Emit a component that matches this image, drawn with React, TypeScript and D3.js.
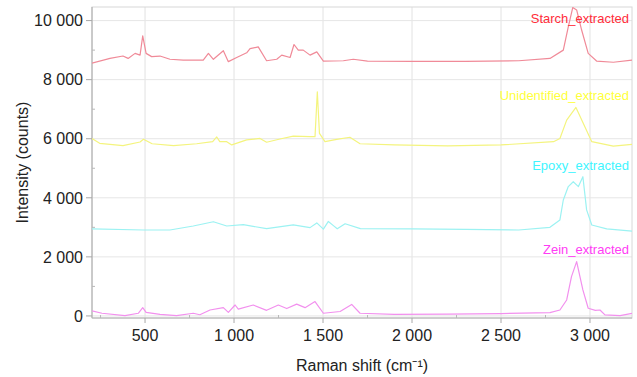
import React from "react";
import * as d3 from "d3";

const starchX = [202, 303, 376, 405, 444, 472, 487, 506, 537, 584, 640, 715, 771, 827, 856, 884, 940, 968, 1015, 1071, 1090, 1136, 1183, 1240, 1268, 1315, 1337, 1361, 1389, 1427, 1465, 1502, 1614, 1670, 1750, 2000, 2300, 2600, 2775, 2850, 2878, 2903, 2925, 2953, 2990, 3037, 3131, 3236];
const starchY = [8560, 8720, 8800, 8720, 8890, 8830, 9480, 8890, 8780, 8800, 8690, 8660, 8660, 8660, 8890, 8690, 8980, 8610, 8750, 8910, 9050, 9110, 8640, 8690, 8830, 8750, 9190, 9000, 9000, 8830, 8940, 8630, 8640, 8690, 8630, 8620, 8620, 8640, 8720, 9000, 9790, 10440, 10360, 9680, 8890, 8630, 8590, 8660];

const unidX = [202, 245, 376, 472, 491, 540, 660, 790, 880, 903, 920, 959, 987, 1071, 1146, 1183, 1258, 1333, 1427, 1455, 1468, 1480, 1511, 1577, 1651, 1708, 1900, 2200, 2500, 2795, 2831, 2869, 2921, 2962, 3010, 3131, 3236];
const unidY = [6010, 5845, 5765, 5890, 5980, 5830, 5765, 5830, 5900, 6060, 5900, 5900, 5790, 5960, 6010, 5880, 5990, 6090, 6070, 6070, 7590, 6180, 5900, 5980, 6050, 5830, 5790, 5760, 5790, 5900, 6010, 6630, 7060, 6520, 5900, 5750, 5810];

const epoxyX = [202, 491, 640, 771, 884, 959, 1052, 1183, 1333, 1427, 1465, 1502, 1530, 1560, 1580, 1624, 1710, 2000, 2300, 2600, 2775, 2831, 2850, 2878, 2906, 2935, 2960, 2981, 3010, 3094, 3236];
const epoxyY = [2945, 2910, 2910, 3045, 3190, 3045, 3090, 2955, 3080, 2990, 3150, 2940, 3200, 3050, 2950, 3120, 2955, 2945, 2930, 2910, 3000, 3250, 3925, 4380, 4545, 4380, 4715, 3590, 3080, 2945, 2870];

const zeinX = [202, 258, 387, 462, 487, 506, 584, 677, 771, 808, 865, 940, 968, 1006, 1024, 1108, 1183, 1249, 1296, 1352, 1399, 1455, 1502, 1596, 1661, 1708, 1900, 2200, 2500, 2775, 2831, 2869, 2896, 2925, 2960, 2990, 3030, 3056, 3084, 3169, 3236];
const zeinY = [170, 90, 10, 90, 280, 120, 50, 10, 90, 40, 200, 280, 120, 370, 230, 370, 190, 370, 250, 400, 280, 485, 90, 150, 390, 90, 55, 60, 80, 110, 200, 540, 1330, 1840, 880, 260, 190, 200, 35, 10, 90];

const seriesNames = ["Starch_extracted", "Unidentified_extracted", "Epoxy_extracted", "Zein_extracted"];
const lineColors = ["#f08a98", "#f4f47e", "#9cf2f2", "#f290ee"];
const labelColors = ["#ff2d3a", "#ffff3c", "#3ff5ff", "#ff3cf5"];
const labelValues = [9920, 7300, 4940, 2100];

const xMajorTicks = [500, 1000, 1500, 2000, 2500, 3000];
const xMinorTicks = [250, 750, 1250, 1750, 2250, 2750, 3250];
const yMajorTicks = [0, 2000, 4000, 6000, 8000, 10000];
const yMinorTicks = [1000, 3000, 5000, 7000, 9000];

const W = 637;
const H = 377;
const L = 92, R = 632, T = 7, B = 318;

export default function App() {
  const x = d3.scaleLinear().domain([202, 3236]).range([L, R]);
  const y = d3.scaleLinear().domain([-70, 10460]).range([B, T]);
  const fmt = d3.formatLocale({ decimal: ".", thousands: " ", grouping: [3], currency: ["", ""] }).format(",d");
  const line = d3.line<[number, number]>().x((d) => x(d[0])).y((d) => y(d[1]));
  const data: [number, number][][] = [
    starchX.map((v, i) => [v, starchY[i]] as [number, number]),
    unidX.map((v, i) => [v, unidY[i]] as [number, number]),
    epoxyX.map((v, i) => [v, epoxyY[i]] as [number, number]),
    zeinX.map((v, i) => [v, zeinY[i]] as [number, number]),
  ];
  const font = "Liberation Sans, Arial, sans-serif";
  return (
    <svg width={W} height={H} style={{ position: "absolute", left: 0, top: 0, background: "#fff" }}>
      <defs>
        <clipPath id="plot">
          <rect x={L} y={T} width={R - L} height={B - T} />
        </clipPath>
      </defs>
      {xMajorTicks.map((t) => (
        <line key={"gx" + t} x1={x(t)} x2={x(t)} y1={T} y2={B} stroke="#e2e2e2" strokeWidth={1} />
      ))}
      {yMajorTicks.map((t) => (
        <line key={"gy" + t} x1={L} x2={R} y1={y(t)} y2={y(t)} stroke="#e6e6e6" strokeWidth={1} />
      ))}
      <rect x={L} y={T} width={R - L} height={B - T} fill="none" stroke="#d8d8d8" strokeWidth={1} />
      <line x1={L} x2={L} y1={T} y2={B} stroke="#a8a8a8" strokeWidth={1} />
      <line x1={L} x2={R} y1={B} y2={B} stroke="#b0b0b0" strokeWidth={1} />
      {yMajorTicks.map((t) => (
        <g key={"ty" + t}>
          <line x1={L - 6} x2={L} y1={y(t)} y2={y(t)} stroke="#a8a8a8" />
          <text x={L - 9} y={y(t)} dy="0.36em" textAnchor="end" fontFamily={font} fontSize={16} fill="#222">
            {fmt(t)}
          </text>
        </g>
      ))}
      {yMinorTicks.map((t) => (
        <line key={"my" + t} x1={L} x2={L + 3} y1={y(t)} y2={y(t)} stroke="#b8b8b8" />
      ))}
      {xMajorTicks.map((t) => (
        <g key={"tx" + t}>
          <line x1={x(t)} x2={x(t)} y1={B} y2={B + 5} stroke="#a8a8a8" />
          <text x={x(t)} y={341} textAnchor="middle" fontFamily={font} fontSize={16} fill="#222">
            {fmt(t)}
          </text>
        </g>
      ))}
      {xMinorTicks.filter((t) => x(t) > L && x(t) < R).map((t) => (
        <line key={"mx" + t} x1={x(t)} x2={x(t)} y1={B - 3} y2={B} stroke="#b8b8b8" />
      ))}
      <g clipPath="url(#plot)">
        {data.map((d, i) => (
          <path key={i} d={line(d) || ""} fill="none" stroke={lineColors[i]} strokeWidth={1.2} strokeLinejoin="round" />
        ))}
      </g>
      {seriesNames.map((n, i) => (
        <text key={n} x={629} y={y(labelValues[i])} textAnchor="end" fontFamily={font} fontSize={13} fill={labelColors[i]}>
          {n}
        </text>
      ))}
      <text x={362} y={371} textAnchor="middle" fontFamily={font} fontSize={16} fill="#222">
        Raman shift (cm⁻¹)
      </text>
      <text transform={`translate(28, ${(T + B) / 2}) rotate(-90)`} textAnchor="middle" fontFamily={font} fontSize={16} fill="#222">
        Intensity (counts)
      </text>
    </svg>
  );
}
